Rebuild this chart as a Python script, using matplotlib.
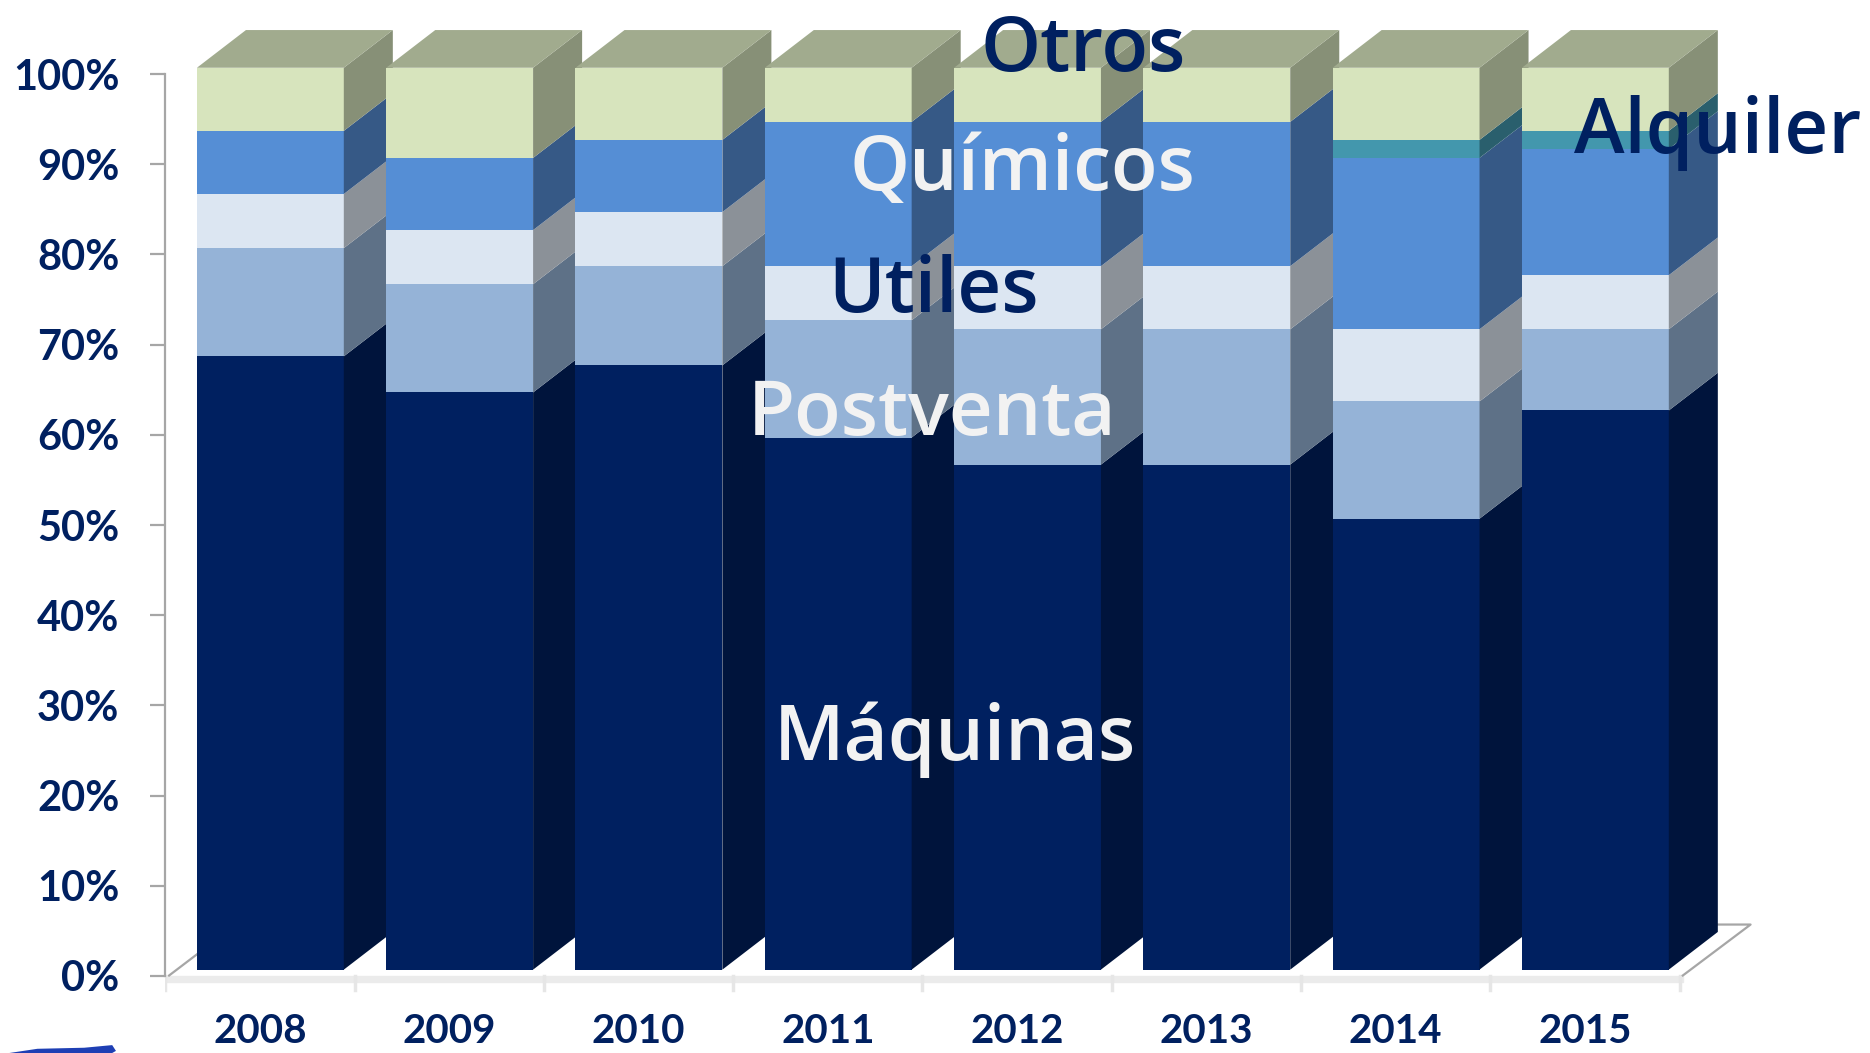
import numpy as np
import matplotlib
matplotlib.use('Agg')
import matplotlib.pyplot as plt
from matplotlib.patches import Rectangle, Polygon
from matplotlib.colors import to_rgb

# Daten (Anteile in %)
jahre = ['2008', '2009', '2010', '2011', '2012', '2013', '2014', '2015']
maquinas = [68, 64, 67, 59, 56, 56, 50, 62]
postventa = [12, 12, 11, 13, 15, 15, 13, 9]
utiles = [6, 6, 6, 6, 7, 7, 8, 6]
quimicos = [7, 8, 8, 16, 16, 16, 19, 14]
alquiler = [0, 0, 0, 0, 0, 0, 2, 2]
otros = [7, 10, 8, 6, 6, 6, 8, 7]

serien = [maquinas, postventa, utiles, quimicos, alquiler, otros]
farben = ['#002060', '#95B3D7', '#DCE6F2', '#558ED5', '#4397AD', '#D7E4BD']

navy = '#002060'
grau = '#A6A6A6'

# 3D-Optik
links, rechts = -0.333, 0.443   # Vorderseite relativ zur Kategorie
tiefe_x, tiefe_y = 0.259, 4.18


def dunkler(c, f):
    r, g, b = to_rgb(c)
    return (r * f, g * f, b * f)


fig = plt.figure(figsize=(18.7, 10.53), dpi=100)
ax = fig.add_axes([0.0884, 0.0449, 0.911, 0.955])
ax.set_xlim(-0.5, 8.5)
ax.set_ylim(-4, 107.5)

x = np.arange(len(jahre))

# Boden
ax.add_patch(Rectangle((-0.5, -1.35), 8.02, 0.7, color='#EBEBEB', zorder=1))
for xt in np.arange(-0.5, 8, 1):
    ax.plot([xt, xt], [-0.65, -2.3], color='#E6E6E6', lw=2.5, zorder=1)
ax.plot([-0.48, -0.48 + 0.354], [-0.65, -0.65 + 5.65], color=grau, lw=1.6, zorder=1)
ax.plot([7.517, 7.875, 7.70], [-0.65, 5.0, 5.0], color=grau, lw=1.6, zorder=1)

# Saeulen
for i in x:
    unten = 0
    z = 2 + i
    for werte, farbe in zip(serien, farben):
        h = werte[i]
        if h <= 0:
            continue
        oben = unten + h
        ax.add_patch(Rectangle((i + links, unten), rechts - links, h,
                               facecolor=farbe, edgecolor='none', zorder=z))
        seite = [(i + rechts, unten), (i + rechts + tiefe_x, unten + tiefe_y),
                 (i + rechts + tiefe_x, oben + tiefe_y), (i + rechts, oben)]
        ax.add_patch(Polygon(seite, closed=True, facecolor=dunkler(farbe, 0.63),
                             edgecolor='none', zorder=z))
        unten = oben
    deckel = [(i + links, unten), (i + rechts, unten),
              (i + rechts + tiefe_x, unten + tiefe_y), (i + links + tiefe_x, unten + tiefe_y)]
    ax.add_patch(Polygon(deckel, closed=True, facecolor=dunkler(farben[-1], 0.75),
                         edgecolor='none', zorder=z))

# Achsen
ticks = np.arange(0, 101, 10)
ax.set_yticks(ticks - 0.7, [f'{t}%' for t in ticks])
ax.set_xticks(x, jahre)
for s in ['top', 'right', 'bottom']:
    ax.spines[s].set_visible(False)
ax.spines['left'].set_bounds(-0.7, 99.3)
ax.spines['left'].set_color(grau)
ax.spines['left'].set_linewidth(1.6)
ax.tick_params(axis='y', length=11, width=1.6, color=grau, pad=22,
               labelsize=30, labelcolor=navy)
ax.tick_params(axis='x', length=0, pad=5, labelsize=29, labelcolor=navy)
for lbl in ax.get_xticklabels() + ax.get_yticklabels():
    lbl.set_fontfamily('Lato')
    lbl.set_fontweight('bold')

# Beschriftungen
schrift = dict(fontsize=55, fontfamily='Open Sans', fontweight='semibold',
               ha='center', va='baseline', zorder=20)
ax.text(4.35, 99.6, 'Otros', color=navy, **schrift)
ax.text(4.03, 86.4, 'Químicos', color='#F2F2F2', **schrift)
ax.text(3.56, 72.9, 'Utiles', color=navy, **schrift)
ax.text(3.55, 59.3, 'Postventa', color='#F2F2F2', **schrift)
ax.text(3.67, 23.3, 'Máquinas', color='#F2F2F2', **schrift)
ax.text(7.70, 90.5, 'Alquiler', color=navy, **schrift)

# Logo-Rest unten links
fig.patches.append(Polygon([(0.005, 0.0), (0.02, 0.004), (0.045, 0.005), (0.06, 0.0075),
                            (0.062, 0.002), (0.06, 0.0)], closed=True,
                           transform=fig.transFigure, facecolor='#1E3FB4', edgecolor='none'))

fig.savefig('out.png', dpi=100)
